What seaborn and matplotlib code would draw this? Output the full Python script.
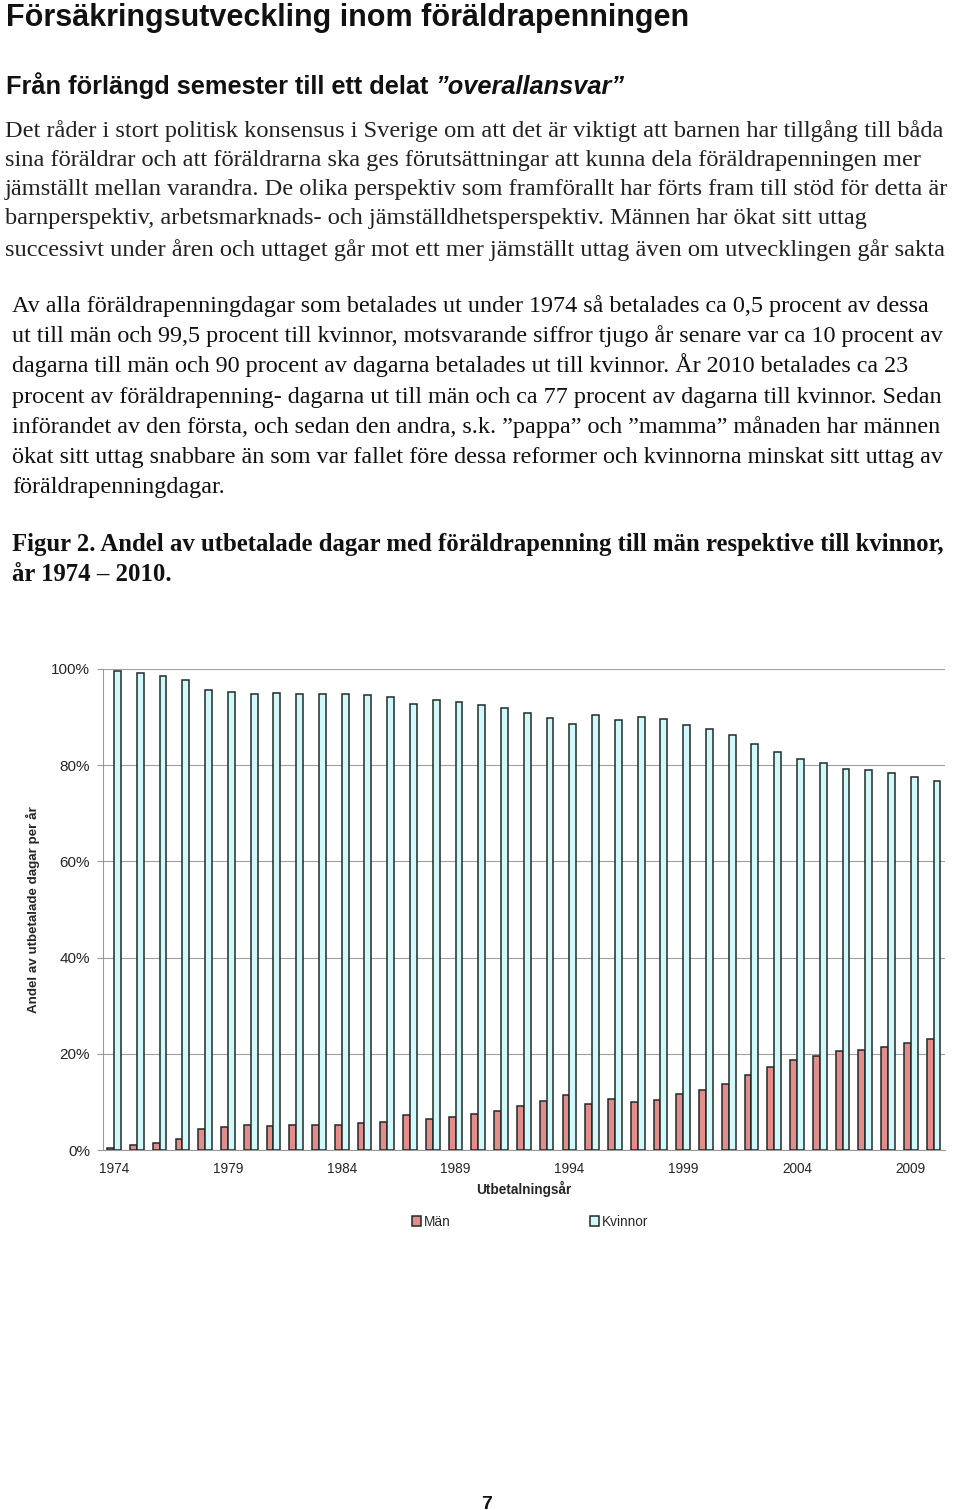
import matplotlib
matplotlib.use("Agg")
import matplotlib.pyplot as plt
import seaborn as sns
import pandas as pd

# Data (share of paid parental-benefit days, percent)
years = list(range(1974, 2011))
man_share = [0.5, 1.0, 1.5, 2.2, 4.3, 4.8, 5.2, 5.0, 5.1, 5.2, 5.2, 5.6, 5.9, 7.3, 6.5, 6.9, 7.5, 8.1,
             9.1, 10.1, 11.4, 9.6, 10.6, 9.9, 10.4, 11.6, 12.4, 13.8, 15.5, 17.2, 18.7, 19.5, 20.6,
             20.8, 21.5, 22.3, 23.1]
kvinnor_share = [99.5, 99.1, 98.6, 97.8, 95.7, 95.2, 94.8, 95.1, 94.9, 94.8, 94.9, 94.6, 94.1, 92.7,
                 93.5, 93.1, 92.6, 91.9, 90.9, 89.9, 88.5, 90.4, 89.4, 90.1, 89.6, 88.4, 87.6, 86.2,
                 84.5, 82.8, 81.2, 80.4, 79.3, 79.1, 78.4, 77.6, 76.8]
tick_years = ["1974", "1979", "1984", "1989", "1994", "1999", "2004", "2009"]
y_ticks = [0, 20, 40, 60, 80, 100]
series_names = ["Män", "Kvinnor"]

title = "Försäkringsutveckling inom föräldrapenningen"
subtitle = "Från förlängd semester till ett delat "
subtitle_italic = "”overallansvar”"
para1 = [
    "Det råder i stort politisk konsensus i Sverige om att det är viktigt att barnen har tillgång till båda",
    "sina föräldrar och att föräldrarna ska ges förutsättningar att kunna dela föräldrapenningen mer",
    "jämställt mellan varandra. De olika perspektiv som framförallt har förts fram till stöd för detta är",
    "barnperspektiv, arbetsmarknads- och jämställdhetsperspektiv. Männen har ökat sitt uttag",
    "successivt under åren och uttaget går mot ett mer jämställt uttag även om utvecklingen går sakta",
]
para2 = [
    "Av alla föräldrapenningdagar som betalades ut under 1974 så betalades ca 0,5 procent av dessa",
    "ut till män och 99,5 procent till kvinnor, motsvarande siffror tjugo år senare var ca 10 procent av",
    "dagarna till män och 90 procent av dagarna betalades ut till kvinnor. År 2010 betalades ca 23",
    "procent av föräldrapenning- dagarna ut till män och ca 77 procent av dagarna till kvinnor. Sedan",
    "införandet av den första, och sedan den andra, s.k. ”pappa” och ”mamma” månaden har männen",
    "ökat sitt uttag snabbare än som var fallet före dessa reformer och kvinnorna minskat sitt uttag av",
    "föräldrapenningdagar.",
]
caption = [
    "Figur 2. Andel av utbetalade dagar med föräldrapenning till män respektive till kvinnor,",
    "år 1974 – 2010.",
]

sns.set_style("white")
plt.rcParams["font.family"] = ["Liberation Sans", "DejaVu Sans"]

W, H = 960, 1510
fig = plt.figure(figsize=(W / 100, H / 100), dpi=100)


def px(x, y):
    return x / W, 1 - y / H


serif = ["Liberation Serif", "DejaVu Serif"]
sans = ["Liberation Sans", "DejaVu Sans"]
ink = "#111111"

# page text
fig.text(*px(6, 26), title, family=sans, weight="bold", fontsize=22, color=ink, va="baseline")
t = fig.text(*px(6, 94), subtitle, family=sans, weight="bold", fontsize=18.3, color=ink, va="baseline")
fig.canvas.draw()
bb = t.get_window_extent()
fig.text(bb.x1 / W, 1 - 94 / H, subtitle_italic, family=sans, weight="bold", style="italic",
         fontsize=18.3, color=ink, va="baseline")

for i, line in enumerate(para1):
    yb = [137, 166, 195, 224, 256][i]
    fig.text(*px(5, yb), line, family=serif, fontsize=17.6, color="#222222", va="baseline")
for i, line in enumerate(para2):
    yb = 312 + 30.2 * i
    fig.text(*px(12, yb), line, family=serif, fontsize=17.4, color=ink, va="baseline")
for i, line in enumerate(caption):
    fig.text(*px(12, 551 + 30 * i), line, family=serif, weight="bold", fontsize=17.8, color=ink,
             va="baseline")
fig.text(*px(487, 1509), "7", weight="bold", fontsize=14, color=ink, ha="center", va="baseline")

# chart
df = pd.DataFrame({
    "År": [str(y) for y in years] * 2,
    "Andel": man_share + kvinnor_share,
    "Kön": ["Män"] * len(years) + ["Kvinnor"] * len(years),
})

ax = fig.add_axes([102.7 / W, 1 - 1150 / H, (945 - 102.7) / W, (1150 - 669) / H])
sns.barplot(data=df, x="År", y="Andel", hue="Kön", hue_order=series_names,
            palette={"Män": "#F27F7C", "Kvinnor": "#CCFFFF"}, edgecolor="#1f2a2a",
            linewidth=1.1, width=0.6, ax=ax, zorder=3)

ax.set_xlim(-0.5, len(years) - 0.5)
ax.set_ylim(0, 100)
ax.set_yticks(y_ticks)
ax.set_yticklabels([f"{v}%" for v in y_ticks], fontsize=11)
pos = [years.index(int(t)) for t in tick_years]
ax.set_xticks(pos)
ax.set_xticklabels(tick_years, fontsize=9.8)
ax.set_xticks([p + 4.5 for p in pos[:-1]], minor=True)
ax.tick_params(axis="x", which="major", length=0, pad=8.5)
ax.tick_params(axis="x", which="minor", length=4, color="#999999", width=0.8)
ax.tick_params(axis="y", length=4, color="#999999", width=0.8, pad=5, left=True)
ax.grid(axis="y", color="#a0a0a0", linewidth=0.8, zorder=0)
ax.grid(axis="x", visible=False)
ax.set_axisbelow(True)
for side in ["top", "right"]:
    ax.spines[side].set_visible(False)
for side in ["left", "bottom"]:
    ax.spines[side].set_color("#999999")
    ax.spines[side].set_linewidth(0.8)

ax.set_xlabel("Utbetalningsår", fontsize=9.8, weight="bold", labelpad=4)
ax.set_ylabel("Andel av utbetalade dagar per år", fontsize=9.6, weight="bold", labelpad=8)

handles, labels = ax.get_legend_handles_labels()
ax.get_legend().remove()
fig.legend(handles, labels, loc="center", bbox_to_anchor=(530 / W, 1 - 1222 / H), ncol=2,
           frameon=False, fontsize=9.8, handlelength=0.7, handleheight=0.7, handletextpad=0.2,
           columnspacing=10.2)

fig.savefig("out.png", dpi=100)
